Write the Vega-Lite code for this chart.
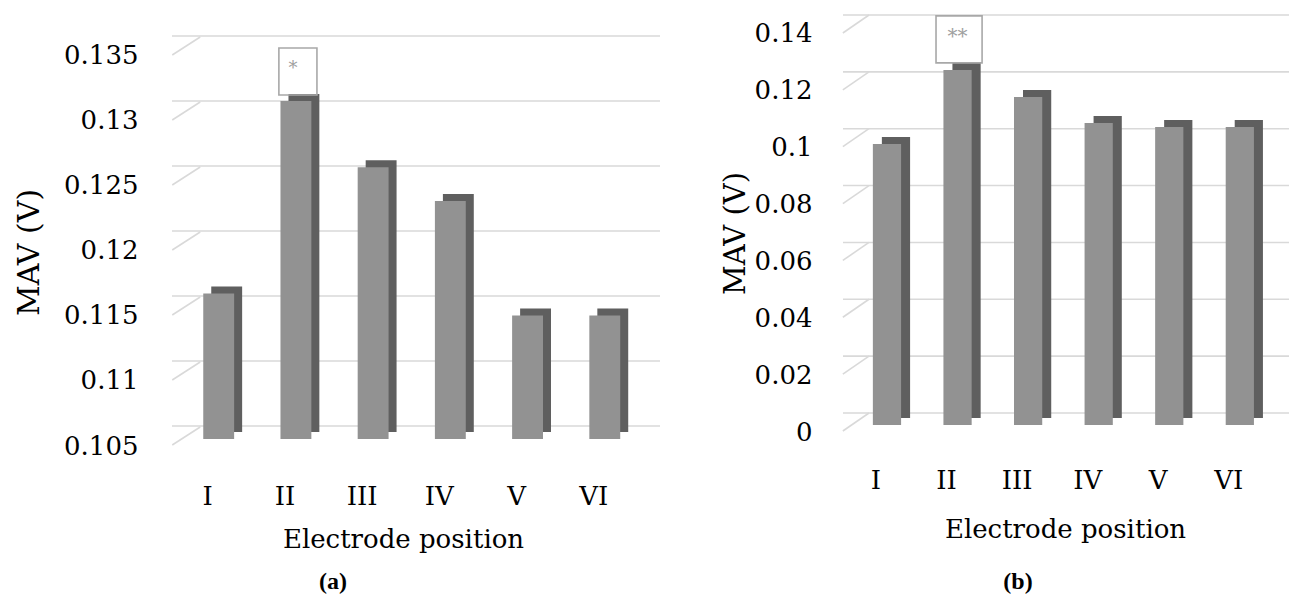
{
  "$schema": "https://vega.github.io/schema/vega-lite/v6.json",
  "background": "white",
  "padding": {"left": 14, "top": 12, "right": 0, "bottom": 0},
  "spacing": 61,
  "config": {
    "view": {"stroke": null},
    "font": "DejaVu Serif",
    "axis": {"grid": false, "ticks": false, "domain": false, "labelFont": "DejaVu Serif", "labelFontSize": 26, "labelColor": "black", "titleFont": "DejaVu Serif", "titleFontWeight": "normal", "titleColor": "black", "titleAlign": "center", "titleBaseline": "middle"},
    "axisX": {"labelAngle": 0, "labelBaseline": "middle", "labelOffset": -11, "titleFontSize": 26},
    "axisY": {"titleAngle": -90, "format": "~g"}
  },
  "datasets": {
    "a": [
      {"pos": "I", "v": 0.1162, "sig": ""},
      {"pos": "II", "v": 0.131, "sig": "*"},
      {"pos": "III", "v": 0.1259, "sig": ""},
      {"pos": "IV", "v": 0.1233, "sig": ""},
      {"pos": "V", "v": 0.1145, "sig": ""},
      {"pos": "VI", "v": 0.1145, "sig": ""}
    ],
    "ga": [{"t": 0.105}, {"t": 0.11}, {"t": 0.115}, {"t": 0.12}, {"t": 0.125}, {"t": 0.13}, {"t": 0.135}],
    "b": [
      {"pos": "I", "v": 0.0988, "sig": ""},
      {"pos": "II", "v": 0.1249, "sig": "**"},
      {"pos": "III", "v": 0.1154, "sig": ""},
      {"pos": "IV", "v": 0.1062, "sig": ""},
      {"pos": "V", "v": 0.1048, "sig": ""},
      {"pos": "VI", "v": 0.1048, "sig": ""}
    ],
    "gb": [{"t": 0}, {"t": 0.02}, {"t": 0.04}, {"t": 0.06}, {"t": 0.08}, {"t": 0.1}, {"t": 0.12}, {"t": 0.14}]
  },
  "hconcat": [
    {
      "width": 488,
      "height": 425,
      "title": {"text": "(a)", "orient": "bottom", "anchor": "middle", "dx": -83, "offset": 18, "font": "Liberation Serif", "fontSize": 24, "fontWeight": "bold", "color": "black"},
      "layer": [
        {
          "data": {"name": "ga"},
          "mark": {"type": "rule", "color": "#d9d9d9", "strokeWidth": 1.6, "xOffset": 28, "yOffset": -13, "clip": true},
          "encoding": {
            "y": {"field": "t", "type": "quantitative", "scale": {"domain": [0.105, 0.1376923], "nice": false, "zero": false}}
          }
        },
        {
          "data": {"name": "ga"},
          "mark": {"type": "rule", "color": "#d9d9d9", "strokeWidth": 1.6, "xOffset": -31, "x2Offset": -18.5, "yOffset": 6, "y2Offset": -12},
          "encoding": {
            "x": {"datum": "I", "bandPosition": 0, "type": "nominal", "scale": {"domain": ["I", "II", "III", "IV", "V", "VI"], "paddingInner": 0.6, "paddingOuter": 0.46, "align": 0.44}},
            "x2": {"datum": "I"},
            "y": {"field": "t", "type": "quantitative", "scale": {"domain": [0.105, 0.1376923], "nice": false, "zero": false}},
            "y2": {"field": "t"}
          }
        },
        {
          "data": {"name": "a"},
          "mark": {"type": "bar", "color": "#5f5f5f", "xOffset": 8, "yOffset": -7, "y2Offset": -7},
          "encoding": {
            "x": {"field": "pos", "type": "nominal", "sort": null, "scale": {"domain": ["I", "II", "III", "IV", "V", "VI"], "paddingInner": 0.6, "paddingOuter": 0.46, "align": 0.44}},
            "y": {"field": "v", "type": "quantitative", "scale": {"domain": [0.105, 0.1376923], "nice": false, "zero": false}},
            "y2": {"datum": 0.105}
          }
        },
        {
          "data": {"name": "a"},
          "mark": {"type": "bar", "color": "#929292"},
          "encoding": {
            "x": {"field": "pos", "type": "nominal", "sort": null, "scale": {"domain": ["I", "II", "III", "IV", "V", "VI"], "paddingInner": 0.6, "paddingOuter": 0.46, "align": 0.44},
              "axis": {"title": "Electrode position", "titleX": 231, "titleY": 100, "titleAnchor": null, "labelPadding": 57}},
            "y": {"field": "v", "type": "quantitative", "scale": {"domain": [0.105, 0.1376923], "nice": false, "zero": false},
              "axis": {"title": "MAV (V)", "titleFontSize": 30, "titleX": -143, "titleY": 238, "values": [0.105, 0.11, 0.115, 0.12, 0.125, 0.13, 0.135], "labelPadding": 34, "labelOffset": 7}},
            "y2": {"datum": 0.105}
          }
        },
        {
          "data": {"name": "a"},
          "transform": [{"filter": "datum.sig != ''"}],
          "mark": {"type": "point", "shape": "M-0.81,-1H0.81V1H-0.81Z", "size": 2209, "filled": false, "stroke": "#a8a8a8", "strokeWidth": 1.6, "opacity": 1, "xOffset": 2, "yOffset": -29.5},
          "encoding": {
            "x": {"field": "pos", "type": "nominal", "sort": null, "scale": {"domain": ["I", "II", "III", "IV", "V", "VI"], "paddingInner": 0.6, "paddingOuter": 0.46, "align": 0.44}},
            "y": {"field": "v", "type": "quantitative", "scale": {"domain": [0.105, 0.1376923], "nice": false, "zero": false}}
          }
        },
        {
          "data": {"name": "a"},
          "transform": [{"filter": "datum.sig != ''"}],
          "mark": {"type": "text", "font": "DejaVu Serif", "fontSize": 18, "color": "#a0a0a0", "baseline": "middle", "align": "center", "xOffset": -3, "yOffset": -31.5},
          "encoding": {
            "x": {"field": "pos", "type": "nominal", "sort": null, "scale": {"domain": ["I", "II", "III", "IV", "V", "VI"], "paddingInner": 0.6, "paddingOuter": 0.46, "align": 0.44}},
            "y": {"field": "v", "type": "quantitative", "scale": {"domain": [0.105, 0.1376923], "nice": false, "zero": false}},
            "text": {"field": "sig"}
          }
        }
      ]
    },
    {
      "width": 446,
      "height": 411,
      "title": {"text": "(b)", "orient": "bottom", "anchor": "middle", "dx": -48, "offset": 28, "font": "Liberation Serif", "fontSize": 24, "fontWeight": "bold", "color": "black"},
      "layer": [
        {
          "data": {"name": "gb"},
          "mark": {"type": "rule", "color": "#d9d9d9", "strokeWidth": 1.6, "xOffset": 26, "yOffset": -12, "clip": true},
          "encoding": {
            "y": {"field": "t", "type": "quantitative", "scale": {"domain": [0, 0.14457], "nice": false, "zero": false}}
          }
        },
        {
          "data": {"name": "gb"},
          "mark": {"type": "rule", "color": "#d9d9d9", "strokeWidth": 1.6, "xOffset": -30, "x2Offset": -18, "yOffset": 6, "y2Offset": -12},
          "encoding": {
            "x": {"datum": "I", "bandPosition": 0, "type": "nominal", "scale": {"domain": ["I", "II", "III", "IV", "V", "VI"], "paddingInner": 0.6, "paddingOuter": 0.46, "align": 0.46}},
            "x2": {"datum": "I"},
            "y": {"field": "t", "type": "quantitative", "scale": {"domain": [0, 0.14457], "nice": false, "zero": false}},
            "y2": {"field": "t"}
          }
        },
        {
          "data": {"name": "b"},
          "mark": {"type": "bar", "color": "#5f5f5f", "xOffset": 9, "yOffset": -7, "y2Offset": -7},
          "encoding": {
            "x": {"field": "pos", "type": "nominal", "sort": null, "scale": {"domain": ["I", "II", "III", "IV", "V", "VI"], "paddingInner": 0.6, "paddingOuter": 0.46, "align": 0.46}},
            "y": {"field": "v", "type": "quantitative", "scale": {"domain": [0, 0.14457], "nice": false, "zero": false}},
            "y2": {"datum": 0}
          }
        },
        {
          "data": {"name": "b"},
          "mark": {"type": "bar", "color": "#929292"},
          "encoding": {
            "x": {"field": "pos", "type": "nominal", "sort": null, "scale": {"domain": ["I", "II", "III", "IV", "V", "VI"], "paddingInner": 0.6, "paddingOuter": 0.46, "align": 0.46},
              "axis": {"title": "Electrode position", "titleX": 222, "titleY": 104, "titleAnchor": null, "labelPadding": 55}},
            "y": {"field": "v", "type": "quantitative", "scale": {"domain": [0, 0.14457], "nice": false, "zero": false},
              "axis": {"title": "MAV (V)", "titleFontSize": 29, "titleX": -108, "titleY": 219, "values": [0, 0.02, 0.04, 0.06, 0.08, 0.1, 0.12, 0.14], "labelPadding": 31, "labelOffset": 7}},
            "y2": {"datum": 0}
          }
        },
        {
          "data": {"name": "b"},
          "transform": [{"filter": "datum.sig != ''"}],
          "mark": {"type": "point", "shape": "M-0.98,-1H0.98V1H-0.98Z", "size": 2209, "filled": false, "stroke": "#a8a8a8", "strokeWidth": 1.6, "opacity": 1, "xOffset": 1.5, "yOffset": -30.5},
          "encoding": {
            "x": {"field": "pos", "type": "nominal", "sort": null, "scale": {"domain": ["I", "II", "III", "IV", "V", "VI"], "paddingInner": 0.6, "paddingOuter": 0.46, "align": 0.46}},
            "y": {"field": "v", "type": "quantitative", "scale": {"domain": [0, 0.14457], "nice": false, "zero": false}}
          }
        },
        {
          "data": {"name": "b"},
          "transform": [{"filter": "datum.sig != ''"}],
          "mark": {"type": "text", "font": "DejaVu Serif", "fontSize": 20, "color": "#a0a0a0", "baseline": "middle", "align": "center", "xOffset": 0, "yOffset": -33},
          "encoding": {
            "x": {"field": "pos", "type": "nominal", "sort": null, "scale": {"domain": ["I", "II", "III", "IV", "V", "VI"], "paddingInner": 0.6, "paddingOuter": 0.46, "align": 0.46}},
            "y": {"field": "v", "type": "quantitative", "scale": {"domain": [0, 0.14457], "nice": false, "zero": false}},
            "text": {"field": "sig"}
          }
        }
      ]
    }
  ]
}
